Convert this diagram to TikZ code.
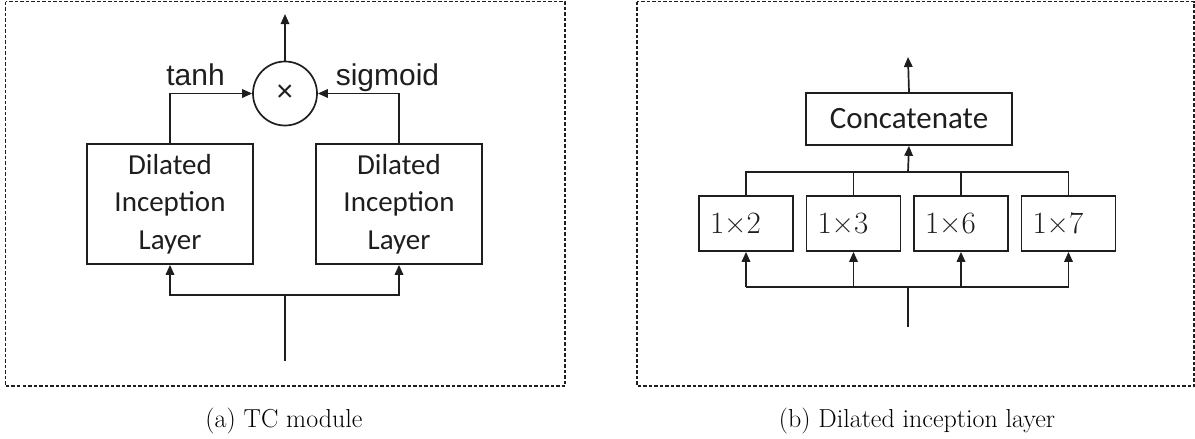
\documentclass[tikz,border=0pt]{standalone}
\usepackage{fontspec}
\usetikzlibrary{arrows.meta}
\newfontfamily\carlito{Carlito}
\newfontfamily\arialf{Liberation Sans}
\definecolor{ink}{RGB}{30,30,30}
\tikzset{
  wire/.style={draw=ink, line width=1.7pt},
  flow/.style={wire, -{Triangle[length=10pt,width=8.5pt]}},
  frame/.style={draw=ink, line width=1.4pt, dash pattern=on 3.5pt off 2pt},
  block/.style={draw=ink, line width=1.7pt, inner sep=0pt, text=ink},
  bigbox/.style={block, minimum width=166pt, minimum height=120pt, align=center,
    font=\carlito\fontsize{29}{37.5}\selectfont},
  kbox/.style={block, minimum height=55pt, text width=72pt, inner xsep=11pt, align=left,
    font=\fontsize{31}{37}\selectfont},
  actlabel/.style={anchor=base, text=ink, inner sep=0pt, font=\arialf\fontsize{30}{36}\selectfont},
  caption/.style={anchor=base, text=black, inner sep=0pt, font=\fontsize{26}{31}\selectfont}
}
\begin{document}
\begin{tikzpicture}[x=1pt,y=-1pt]
\useasboundingbox (0,0) rectangle (1195,439);

% ---------- (a) TC module ----------
\draw[frame] (5.5,1.5) rectangle (565,386);
\node[block, circle, minimum size=64pt, font=\arialf\fontsize{30}{36}\selectfont] (mul) at (285,93.5) {\raisebox{-1pt}{×}};
\node[bigbox] (dil1) at (170,204) {Dilated\\Inception\\Layer};
\node[bigbox] (dil2) at (399,204) {Dilated\\Inception\\Layer};
\node[actlabel] (tanh) at (195.5,85) {tanh};
\node[actlabel] (sig) at (387.5,85) {sigmoid};
\coordinate (out1) at (285,14);
\coordinate (in1) at (285,361);
\coordinate (j1) at (285,295);
\draw[flow] (dil1.north) |- (mul.west);
\draw[flow] (dil2.north) |- (mul.east);
\draw[flow] (mul.north) -- (out1);
\draw[wire] (in1) -- (j1);
\draw[flow] (j1) -| (dil1.south);
\draw[flow] (j1) -| (dil2.south);
\node[caption] (capa) at (284,427) {(a) TC module};

% ---------- (b) Dilated inception layer ----------
\draw[frame] (637,1.5) rectangle (1194,386);
\node[block, minimum width=206pt, minimum height=52pt, font=\carlito\fontsize{31}{37}\selectfont] (cat) at (909,119) {Concatenate};
\node[kbox] (k2) at (746,223.5) {1×2};
\node[kbox] (k3) at (853.5,223.5) {1×3};
\node[kbox] (k6) at (961,223.5) {1×6};
\node[kbox] (k7) at (1068.5,223.5) {1×7};
\coordinate (top) at (908,172);
\coordinate (bot) at (908,287);
\coordinate (in2) at (908,327);
\coordinate (out2) at (908,57);
\draw[wire] (k2.north) |- (k7.north |- top) -- (k7.north);
\draw[wire] (k3.north) -- (k3.north |- top);
\draw[wire] (k6.north) -- (k6.north |- top);
\draw[flow] (top) -- (cat.south);
\draw[flow] (cat.north) -- (out2);
\draw[wire] (in2) -- (bot);
\draw[wire] (k2.south |- bot) -- (k7.south |- bot);
\foreach \k in {k2,k3,k6,k7}
  \draw[flow] (\k.south |- bot) -- (\k.south);
\node[caption] (capb) at (917,427) {(b) Dilated inception layer};
\end{tikzpicture}
\end{document}
